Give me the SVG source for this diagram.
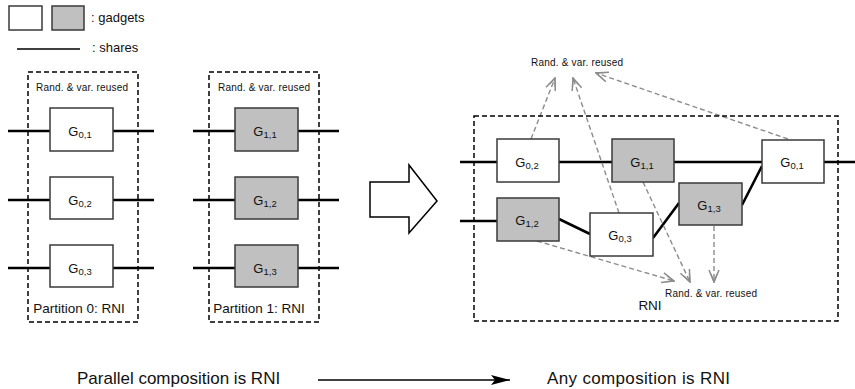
<svg xmlns="http://www.w3.org/2000/svg" width="855" height="389" viewBox="0 0 855 389">
<defs>
<style>
text{font-family:"Liberation Sans","DejaVu Sans",sans-serif;fill:#111}
.g{stroke:#3a3a3a;stroke-width:1.5}
.w{fill:#fff}
.s{fill:#c0c0c0}
.lbl{font-size:13px}
.sub{font-size:9.5px}
.share{stroke:#000;stroke-width:2.6;fill:none}
.part{fill:none;stroke:#000;stroke-width:1.5;stroke-dasharray:5,3}
.reuse{stroke:#8c8c8c;stroke-width:1.4;fill:none;stroke-dasharray:5,3}
.small{font-size:10px}
</style>
<marker id="v" markerUnits="userSpaceOnUse" viewBox="0 0 14 12" markerWidth="14" markerHeight="12" refX="13" refY="6" orient="auto">
<path d="M1,1 L13,6 L1,11" fill="none" stroke="#8c8c8c" stroke-width="1.5"/>
<path d="M5,3 L13,6 L5,9" fill="none" stroke="#8c8c8c" stroke-width="1.2"/>
</marker>
<marker id="stealth" markerUnits="userSpaceOnUse" viewBox="0 0 20 10" markerWidth="20" markerHeight="10" refX="19" refY="5" orient="auto">
<path d="M0,0 L19,5 L0,10 L4,5 Z" fill="#000"/>
</marker>
</defs>

<!-- legend -->
<g id="legend">
<rect x="9" y="6" width="33" height="24" class="g w"/>
<rect x="52" y="6" width="32" height="24" class="g s"/>
<text x="91" y="22" font-size="13">: gadgets</text>
<line x1="17" y1="49" x2="80" y2="49" stroke="#000" stroke-width="1.6"/>
<text x="92" y="52" font-size="13">: shares</text>
</g>

<!-- shares / connectors -->
<g id="connectors">
<path class="share" d="M8,131H50M113,131H154M8,200H50M113,200H154M8,268H50M113,268H154"/>
<path class="share" d="M193,131H235M298,131H339M193,200H235M298,200H339M193,268H235M298,268H339"/>
<path class="share" d="M460,162H497M559,162H612M674,162H762M824,162H855"/>
<path class="share" d="M460,221H497M559,219L590,234M653,238L679,203M742,205L762,166"/>
<line x1="531" y1="139" x2="555" y2="78" class="reuse" marker-end="url(#v)"/>
<line x1="619" y1="213" x2="573" y2="78" class="reuse" marker-end="url(#v)"/>
<line x1="788" y1="139" x2="596" y2="73" class="reuse" marker-end="url(#v)"/>
<line x1="537" y1="241" x2="674" y2="281" class="reuse" marker-end="url(#v)"/>
<line x1="643" y1="182" x2="690" y2="282" class="reuse" marker-end="url(#v)"/>
<line x1="714" y1="226" x2="714" y2="282" class="reuse" marker-end="url(#v)"/>
<line x1="318" y1="380" x2="510" y2="380" stroke="#000" stroke-width="1.6" marker-end="url(#stealth)"/>
</g>

<!-- partition 0 -->
<g id="partition0">
<rect x="28" y="72" width="110" height="250" class="part"/>
<text x="82" y="91" class="small" text-anchor="middle" textLength="92" lengthAdjust="spacing">Rand. &amp; var. reused</text>
<text x="79" y="313" font-size="13.5" text-anchor="middle">Partition 0: RNI</text>
</g>
<g id="G01l"><rect x="50" y="108" width="63" height="43" class="g w"/><text x="80" y="136" class="lbl" text-anchor="middle">G<tspan class="sub" dy="2">0,1</tspan></text></g>
<g id="G02l"><rect x="50" y="177" width="63" height="42" class="g w"/><text x="80" y="205" class="lbl" text-anchor="middle">G<tspan class="sub" dy="2">0,2</tspan></text></g>
<g id="G03l"><rect x="50" y="245" width="63" height="42" class="g w"/><text x="80" y="273" class="lbl" text-anchor="middle">G<tspan class="sub" dy="2">0,3</tspan></text></g>

<!-- partition 1 -->
<g id="partition1">
<rect x="209" y="72" width="110" height="250" class="part"/>
<text x="264" y="91" class="small" text-anchor="middle" textLength="92" lengthAdjust="spacing">Rand. &amp; var. reused</text>
<text x="259" y="313" font-size="13.5" text-anchor="middle">Partition 1: RNI</text>
</g>
<g id="G11l"><rect x="235" y="108" width="63" height="43" class="g s"/><text x="265" y="136" class="lbl" text-anchor="middle">G<tspan class="sub" dy="2">1,1</tspan></text></g>
<g id="G12l"><rect x="235" y="177" width="63" height="42" class="g s"/><text x="265" y="205" class="lbl" text-anchor="middle">G<tspan class="sub" dy="2">1,2</tspan></text></g>
<g id="G13l"><rect x="235" y="245" width="63" height="42" class="g s"/><text x="265" y="273" class="lbl" text-anchor="middle">G<tspan class="sub" dy="2">1,3</tspan></text></g>

<!-- block arrow -->
<g id="bigarrow">
<polygon points="370,182 409,182 409,165 437,201 409,233 409,217 370,217" fill="#fff" stroke="#000" stroke-width="1.5"/>
</g>

<!-- composed -->
<g id="composition">
<rect x="474" y="116" width="364" height="205" class="part"/>
<text x="577" y="66" class="small" text-anchor="middle" textLength="92" lengthAdjust="spacing">Rand. &amp; var. reused</text>
<text x="711" y="297" class="small" text-anchor="middle" textLength="92" lengthAdjust="spacing">Rand. &amp; var. reused</text>
<text x="650" y="310" font-size="13.5" text-anchor="middle">RNI</text>
</g>
<g id="G02r"><rect x="497" y="139" width="62" height="43" class="g w"/><text x="527" y="167" class="lbl" text-anchor="middle">G<tspan class="sub" dy="2">0,2</tspan></text></g>
<g id="G11r"><rect x="612" y="139" width="62" height="43" class="g s"/><text x="642" y="167" class="lbl" text-anchor="middle">G<tspan class="sub" dy="2">1,1</tspan></text></g>
<g id="G01r"><rect x="762" y="140" width="62" height="43" class="g w"/><text x="792" y="167" class="lbl" text-anchor="middle">G<tspan class="sub" dy="2">0,1</tspan></text></g>
<g id="G12r"><rect x="497" y="198" width="62" height="43" class="g s"/><text x="527" y="225" class="lbl" text-anchor="middle">G<tspan class="sub" dy="2">1,2</tspan></text></g>
<g id="G03r"><rect x="590" y="213" width="63" height="43" class="g w"/><text x="620" y="240" class="lbl" text-anchor="middle">G<tspan class="sub" dy="2">0,3</tspan></text></g>
<g id="G13r"><rect x="679" y="183" width="63" height="42" class="g s"/><text x="709" y="210" class="lbl" text-anchor="middle">G<tspan class="sub" dy="2">1,3</tspan></text></g>

<!-- captions -->
<g id="captions">
<text x="77" y="384" font-size="17">Parallel composition is RNI</text>
<text x="547" y="384" font-size="17" textLength="183" lengthAdjust="spacing">Any composition is RNI</text>
</g>
</svg>
